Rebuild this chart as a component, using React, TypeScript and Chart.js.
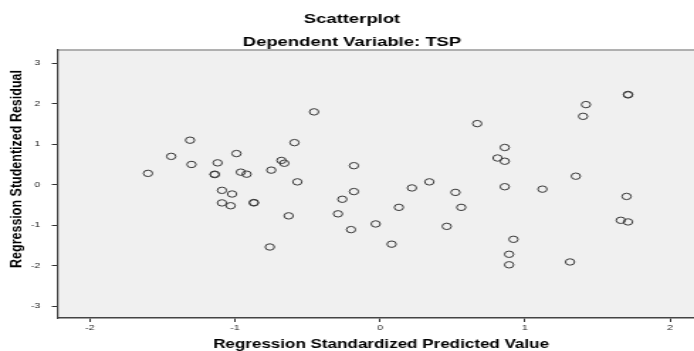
import React, { useEffect, useRef } from "react";
import { Chart, registerables } from "chart.js";

Chart.register(...registerables);

// ---- data ----
const predictedValues = [
  -0.455, -1.31, -0.59, -1.44, -0.99, -1.3, -1.12, -0.68, -0.66, -0.18,
  -1.6, -1.14, -1.14, -0.96, -0.92, -0.75, -0.57, -1.09, -1.02, -1.09,
  -1.03, -0.87, -0.87, -0.63, -0.18, -0.26, -0.29, -0.2, -0.03, -0.76,
  1.71, 1.71, 1.42, 1.4, 0.67, 0.86, 0.81, 0.86, 1.35, 0.22,
  0.34, 0.52, 0.86, 1.12, 1.7, 0.13, 0.56, 0.46, 1.66, 1.71,
  0.08, 0.92, 0.89, 0.89, 1.31,
];
const studentizedResiduals = [
  1.8, 1.1, 1.04, 0.7, 0.77, 0.5, 0.54, 0.6, 0.53, 0.47,
  0.28, 0.25, 0.26, 0.31, 0.26, 0.36, 0.07, -0.14, -0.23, -0.45,
  -0.52, -0.44, -0.45, -0.77, -0.17, -0.36, -0.72, -1.11, -0.97, -1.54,
  2.22, 2.23, 1.98, 1.69, 1.51, 0.92, 0.66, 0.58, 0.21, -0.08,
  0.07, -0.19, -0.05, -0.11, -0.29, -0.56, -0.56, -1.03, -0.88, -0.92,
  -1.47, -1.35, -1.72, -1.98, -1.91,
];
const xTickValues = [-2, -1, 0, 1, 2];
const yTickValues = [-3, -2, -1, 0, 1, 2, 3];
const titleText = "Scatterplot";
const subtitleText = "Dependent Variable: TSP";
const xAxisTitle = "Regression Standardized Predicted Value";
const yAxisTitle = "Regression Studentized Residual";

// the reference is horizontally stretched; draw narrow and stretch via CSS
const DISPLAY_W = 694;
const DISPLAY_H = 351;
const CANVAS_W = 489;
const CANVAS_H = 351;
const FONT = '"Liberation Sans", Arial, Helvetica, sans-serif';

const spssPlugin = {
  id: "spssDecor",
  beforeDraw(chart: any) {
    const { ctx, chartArea } = chart;
    const { left, top, right, bottom } = chartArea;
    ctx.save();
    ctx.fillStyle = "#f0f0f0";
    ctx.fillRect(left, top, right - left, bottom - top);
    ctx.strokeStyle = "#9a9a9a";
    ctx.lineWidth = 1.5;
    ctx.beginPath();
    ctx.moveTo(left, top + 0.5);
    ctx.lineTo(right, top + 0.5);
    ctx.stroke();
    ctx.restore();
  },
  afterDraw(chart: any) {
    const { ctx } = chart;
    ctx.save();
    ctx.fillStyle = "#000";
    ctx.textAlign = "center";
    ctx.textBaseline = "middle";
    ctx.font = `bold 13px ${FONT}`;
    ctx.fillText(titleText, 248, 19);
    ctx.fillText(subtitleText, 248, 42.2);
    ctx.font = `bold 12px ${FONT}`;
    ctx.fillText(xAxisTitle, 268.5, 344.2);
    ctx.translate(11.9, 169);
    ctx.scale(0.82, 1);
    ctx.rotate(-Math.PI / 2);
    ctx.font = `bold 12.5px ${FONT}`;
    ctx.fillText(yAxisTitle, 0, 0);
    ctx.restore();
  },
};

export default function App() {
  const canvasRef = useRef<HTMLCanvasElement | null>(null);

  useEffect(() => {
    document.body.style.margin = "0";
    const canvas = canvasRef.current;
    if (!canvas) return;
    const points = predictedValues.map((x, i) => ({ x, y: studentizedResiduals[i] }));
    const chart = new Chart(canvas, {
      type: "scatter",
      data: {
        datasets: [
          {
            data: points,
            pointStyle: "circle",
            pointRadius: 3.2,
            pointBorderWidth: 1,
            pointBorderColor: "#383838",
            pointBackgroundColor: "rgba(0,0,0,0)",
            pointHoverRadius: 3.2,
            clip: false,
          },
        ],
      },
      options: {
        animation: false,
        responsive: false,
        devicePixelRatio: 1,
        events: [],
        layout: { autoPadding: false, padding: { top: 49.5, left: 0, right: 0, bottom: 0 } },
        plugins: {
          legend: { display: false },
          title: { display: false },
          tooltip: { enabled: false },
        },
        scales: {
          x: {
            type: "linear",
            position: "bottom",
            min: -2.224,
            max: 2.165,
            afterBuildTicks: (scale: any) => {
              scale.ticks = xTickValues.map((v) => ({ value: v }));
            },
            afterFit: (scale: any) => {
              scale.height = 33;
              scale.paddingLeft = 0;
              scale.paddingRight = 0;
            },
            grid: {
              display: true,
              drawOnChartArea: false,
              drawTicks: true,
              tickLength: 4,
              color: "#333",
              lineWidth: 1,
            },
            border: { display: true, color: "#444", width: 1.5 },
            ticks: {
              padding: 1,
              color: "#222",
              font: { family: FONT, size: 7.5 },
              maxRotation: 0,
              autoSkip: false,
            },
            title: { display: false },
          },
          y: {
            type: "linear",
            position: "left",
            min: -3.295,
            max: 3.342,
            afterBuildTicks: (scale: any) => {
              scale.ticks = yTickValues.map((v) => ({ value: v }));
            },
            afterFit: (scale: any) => {
              scale.width = 40.5;
              scale.paddingTop = 0;
              scale.paddingBottom = 0;
            },
            grid: {
              display: true,
              drawOnChartArea: false,
              drawTicks: true,
              tickLength: 4,
              color: "#333",
              lineWidth: 1,
            },
            border: { display: true, color: "#444", width: 1.2 },
            ticks: {
              padding: 8,
              color: "#222",
              font: { family: FONT, size: 7.5 },
              autoSkip: false,
            },
            title: { display: false },
          },
        },
      },
      plugins: [spssPlugin],
    } as any);
    return () => chart.destroy();
  }, []);

  return (
    <div style={{ position: "fixed", left: 0, top: 0, width: DISPLAY_W, height: DISPLAY_H, background: "#fff" }}>
      <canvas
        ref={canvasRef}
        width={CANVAS_W}
        height={CANVAS_H}
        style={{ width: `${DISPLAY_W}px`, height: `${DISPLAY_H}px`, display: "block" }}
      />
    </div>
  );
}
